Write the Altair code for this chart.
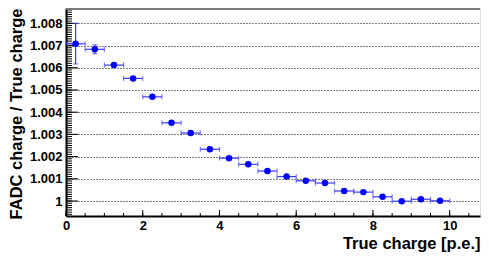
import altair as alt
import pandas as pd

# ---- data ----
x_centers = [0.25, 0.75, 1.25, 1.75, 2.25, 2.75, 3.25, 3.75, 4.25, 4.75,
             5.25, 5.75, 6.25, 6.75, 7.25, 7.75, 8.25, 8.75, 9.25, 9.75]
x_halfwidth = [0.25] * 20
ratio = [1.00708, 1.00683, 1.00612, 1.00552, 1.00469, 1.00352, 1.00306, 1.00233,
         1.00193, 1.00165, 1.00135, 1.00110, 1.00091, 1.00081, 1.00045, 1.00040,
         1.00019, 0.99999, 1.00008, 1.00001]
ratio_err = [0.00091, 0.00020, 0.00006, 0.00005, 0.00005, 0.00005, 0.00004, 0.00004,
             0.00004, 0.00004, 0.00004, 0.00004, 0.00004, 0.00004, 0.00004, 0.00004,
             0.00004, 0.00004, 0.00004, 0.00004]

y_major = [1.000, 1.001, 1.002, 1.003, 1.004, 1.005, 1.006, 1.007, 1.008]
x_major = [0, 2, 4, 6, 8, 10]

X_DOMAIN = [0, 10.79]
Y_DOMAIN = [0.999325, 1.00869]
W, H = 414, 208
FONT = "Liberation Sans"
BLUE = "#0000ff"
EBLUE = "#3a3aff"

df = pd.DataFrame({
    "x": x_centers,
    "y": ratio,
    "xlo": [c - h for c, h in zip(x_centers, x_halfwidth)],
    "xhi": [c + h for c, h in zip(x_centers, x_halfwidth)],
    "ylo": [v - e for v, e in zip(ratio, ratio_err)],
    "yhi": [v + e for v, e in zip(ratio, ratio_err)],
})

xs = alt.Scale(domain=X_DOMAIN, nice=False, zero=False)
ys = alt.Scale(domain=Y_DOMAIN, nice=False, zero=False)

x_axis = alt.Axis(
    values=x_major, format="~f", title="True charge [p.e.]",
    grid=False, ticks=False, tickSize=0, domain=True, domainColor="black",
    domainWidth=2, labelFont=FONT, labelFontSize=13, labelFontWeight="bold",
    labelColor="black", labelPadding=3, labelFlush=False,
    titleFont=FONT, titleFontSize=16.5, titleFontWeight="bold", titleColor="black",
    titleAlign="right", titleAnchor="end", titleX=W, titleY=32,
    titleBaseline="alphabetic",
)
y_axis = alt.Axis(
    values=y_major, format=".3~f", title="FADC charge / True charge",
    grid=True, gridColor="black", gridDash=[1, 2], gridWidth=1,
    ticks=False, tickSize=0, domain=True, domainColor="black", domainWidth=2,
    labelFont=FONT, labelFontSize=13, labelFontWeight="bold", labelColor="black",
    labelPadding=4, labelFlush=False,
    titleFont=FONT, titleFontSize=16.5, titleFontWeight="bold", titleColor="black",
    titleAngle=270, titleAlign="right", titleX=-45, titleY=0,
    titleBaseline="alphabetic",
)

# minor / major tick positions (ROOT style, drawn inside the frame)
y_minor = [round(0.9992 + i * 0.0001, 4) for i in range(95)]
y_minor = [v for v in y_minor if Y_DOMAIN[0] <= v <= Y_DOMAIN[1]]
x_minor = [i * 0.5 for i in range(22)]
x_minor = [v for v in x_minor if X_DOMAIN[0] <= v <= X_DOMAIN[1]]

base = alt.Chart(df)

points = base.mark_circle(size=42, color=BLUE, opacity=1).encode(
    x=alt.X("x:Q", scale=xs, axis=x_axis),
    y=alt.Y("y:Q", scale=ys, axis=y_axis),
)

ytick_minor = alt.Chart(pd.DataFrame({"y": y_minor})).mark_rule(
    color="black", strokeWidth=1).encode(
    y=alt.Y("y:Q", scale=ys, axis=y_axis),
    x=alt.value(0),
    x2=alt.value(6),
)
ytick_major = alt.Chart(pd.DataFrame({"y": y_major})).mark_rule(
    color="black", strokeWidth=1).encode(
    y=alt.Y("y:Q", scale=ys, axis=y_axis),
    x=alt.value(0),
    x2=alt.value(12),
)
xtick_minor = alt.Chart(pd.DataFrame({"x": x_minor})).mark_rule(
    color="black", strokeWidth=1).encode(
    x=alt.X("x:Q", scale=xs, axis=x_axis),
    y=alt.value(H),
    y2=alt.value(H - 3),
)
xtick_major = alt.Chart(pd.DataFrame({"x": x_major})).mark_rule(
    color="black", strokeWidth=1).encode(
    x=alt.X("x:Q", scale=xs, axis=x_axis),
    y=alt.value(H),
    y2=alt.value(H - 6),
)

hbar = base.mark_rule(color=EBLUE, strokeWidth=1.2).encode(
    x=alt.X("xlo:Q", scale=xs, axis=x_axis),
    x2="xhi:Q",
    y=alt.Y("y:Q", scale=ys, axis=y_axis),
)
hcap_lo = base.mark_tick(orient="vertical", size=5, thickness=1.1, color=EBLUE).encode(
    x=alt.X("xlo:Q", scale=xs, axis=x_axis),
    y=alt.Y("y:Q", scale=ys, axis=y_axis),
)
hcap_hi = base.mark_tick(orient="vertical", size=5, thickness=1.1, color=EBLUE).encode(
    x=alt.X("xhi:Q", scale=xs, axis=x_axis),
    y=alt.Y("y:Q", scale=ys, axis=y_axis),
)
vbar = base.mark_rule(color=EBLUE, strokeWidth=1.2).encode(
    x=alt.X("x:Q", scale=xs, axis=x_axis),
    y=alt.Y("ylo:Q", scale=ys, axis=y_axis),
    y2="yhi:Q",
)
vcap_lo = base.mark_tick(orient="horizontal", size=5, thickness=1.1, color=EBLUE).encode(
    x=alt.X("x:Q", scale=xs, axis=x_axis),
    y=alt.Y("ylo:Q", scale=ys, axis=y_axis),
)
vcap_hi = base.mark_tick(orient="horizontal", size=5, thickness=1.1, color=EBLUE).encode(
    x=alt.X("x:Q", scale=xs, axis=x_axis),
    y=alt.Y("yhi:Q", scale=ys, axis=y_axis),
)

top_frame = alt.Chart(pd.DataFrame({"a": [0]})).mark_rule(
    color="#7a7a7a", strokeWidth=2).encode(
    x=alt.value(0), x2=alt.value(W), y=alt.value(1)
)

chart = alt.layer(
    ytick_minor, ytick_major, xtick_minor, xtick_major,
    hbar, hcap_lo, hcap_hi, vbar, vcap_lo, vcap_hi, points, top_frame,
).properties(
    width=W, height=H,
    autosize=alt.AutoSizeParams(type="none"),
    padding={"left": 58, "top": 0, "right": 1, "bottom": 36},
).configure_view(stroke="black", strokeWidth=1).configure(background="white")

chart.save("out.html", embed_options={"renderer": "svg", "actions": False})
